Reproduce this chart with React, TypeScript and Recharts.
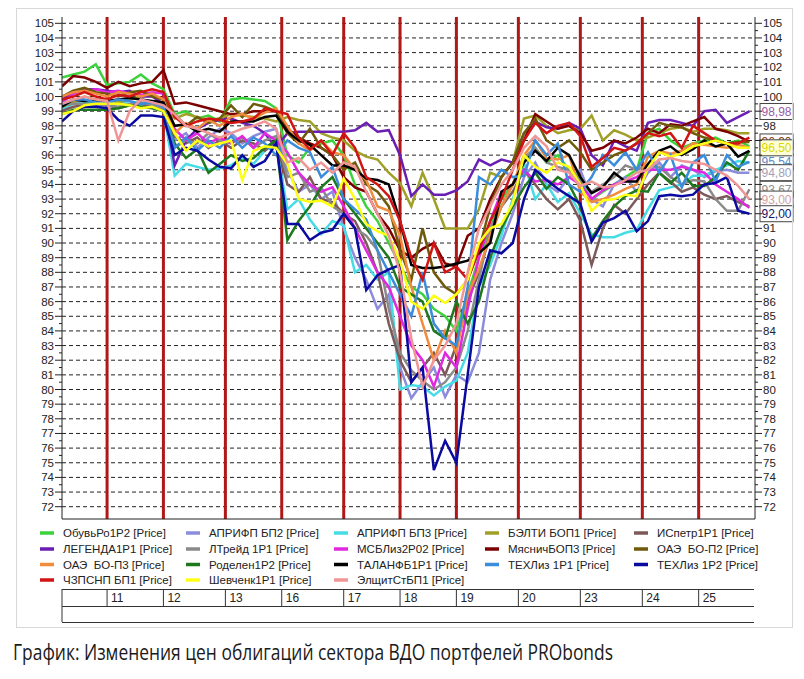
import React from "react";
import { LineChart, Line, XAxis, YAxis, ReferenceLine, ReferenceDot } from "recharts";

// ---------- axis / category data ----------
const slotsPerDay = [8, 10, 11, 10, 11, 10, 10, 11, 11, 11, 10, 10];
const dayLabels = ["", "11", "12", "13", "16", "17", "18", "19", "20", "23", "24", "25"];
const sampleStep = 2;
const yMin = 71.16;
const yMax = 105.43;

// ---------- series ----------
const seriesNames = [
  "ОбувьРо1Р2", "АПРИФП БП2", "АПРИФП БП3", "БЭЛТИ БОП1", "ИСпетр1Р1",
  "ЛЕГЕНДА1Р1", "ЛТрейд 1Р1", "МСБЛиз2Р02", "МясничБОП3", "ОАЭ\u00A0 БО-П2",
  "ОАЭ\u00A0 БО-П3", "Роделен1Р2", "ТАЛАНФБ1Р1", "ТЕХЛиз 1Р1", "ТЕХЛиз 1Р2",
  "ЧЗПСНП БП1", "Шевченк1Р1", "ЭлщитСтБП1",
];
const seriesColors = [
  "#3cd23c", "#8c8cdc", "#46dce6", "#a0a028", "#7d5a5a",
  "#6a1eb4", "#8a8a8a", "#e028e0", "#7d0000", "#6e5a0a",
  "#f08c3c", "#1e781e", "#000000", "#3c8cdc", "#0a0aa0",
  "#d21414", "#ffff14", "#f09696",
];

const obuvRo = [101.3, 101.5, 101.7, 102.2, 100.8, 100.9, 101.0, 101.5, 100.9, 100.5, 98.8, 99.0, 98.5, 98.7, 98.3, 99.8, 99.9, 99.8, 99.7, 99.2, 96.0, 95.5, 96.5, 96.8, 97.0, 96.0, 94.0, 92.5, 91.5, 90.0, 88.5, 87.0, 86.5, 85.5, 85.0, 84.0, 86.5, 89.0, 91.0, 93.0, 94.0, 95.5, 96.5, 95.5, 96.0, 95.0, 94.5, 93.0, 93.5, 94.0, 94.5, 95.0, 97.5, 97.8, 97.0, 96.5, 96.8, 97.0, 97.2, 96.8, 97.0, 96.6];
const aprifp2 = [99.0, 99.6, 99.7, 99.6, 99.5, 99.6, 99.5, 99.6, 99.5, 99.3, 97.0, 97.5, 96.5, 97.2, 97.8, 97.5, 96.8, 97.3, 97.6, 97.8, 95.0, 93.5, 94.0, 93.0, 93.5, 91.0, 89.0, 87.5, 85.5, 86.5, 81.5, 79.4, 80.5, 81.5, 79.5, 81.0, 80.5, 82.5, 87.5, 90.0, 92.0, 94.5, 95.5, 94.0, 93.5, 94.5, 95.0, 93.0, 92.5, 94.0, 94.5, 93.5, 94.8, 95.5, 94.5, 95.3, 95.0, 94.5, 94.9, 95.0, 94.8, 94.8];
const aprifp3 = [99.2, 99.5, 99.6, 99.5, 99.4, 99.6, 99.5, 99.3, 99.4, 99.0, 94.6, 95.4, 95.2, 95.0, 95.1, 95.3, 95.8, 95.4, 96.3, 96.8, 92.3, 93.0, 91.6, 90.6, 91.5, 91.2, 88.0, 88.5, 87.5, 88.0, 80.0, 80.3, 80.2, 79.6, 80.2, 80.6, 82.5, 87.0, 88.5, 90.5, 93.0, 95.5, 93.0, 94.0, 92.8, 93.4, 92.0, 90.6, 90.4, 90.4, 90.7, 90.9, 92.3, 93.6, 93.8, 94.0, 94.6, 94.6, 95.0, 95.3, 95.6, 95.5];
const belti = [99.3, 99.6, 100.0, 99.8, 99.8, 99.6, 99.8, 100.0, 100.2, 99.2, 98.5, 98.8, 98.6, 98.4, 98.5, 98.8, 98.7, 98.6, 98.5, 98.3, 98.6, 98.4, 98.3, 97.5, 97.2, 97.0, 96.3, 95.9, 95.7, 94.8, 94.1, 92.5, 94.8, 93.0, 91.0, 91.0, 91.0, 92.3, 94.8, 94.5, 95.5, 98.5, 98.7, 98.0, 97.5, 97.7, 97.8, 98.7, 97.0, 97.7, 97.4, 97.0, 97.2, 97.5, 97.8, 97.9, 97.6, 97.8, 97.8, 97.7, 97.5, 97.5];
const ispetr = [99.0, 99.3, 99.4, 99.5, 99.4, 99.2, 99.4, 99.5, 99.3, 99.0, 97.3, 96.8, 97.2, 96.5, 97.0, 96.5, 97.0, 96.8, 96.3, 97.0, 94.0, 93.5, 94.5, 93.0, 92.8, 92.0, 91.5, 90.0, 88.0, 84.5, 82.0, 80.5, 81.5, 82.5, 81.0, 83.0, 86.0, 88.0, 90.5, 92.5, 93.5, 95.0, 94.0, 93.0, 92.3, 93.0, 91.5, 88.5, 91.0, 92.6, 92.0, 93.0, 94.0, 94.8, 94.2, 93.5, 93.8, 93.3, 93.0, 93.2, 92.8, 92.5];
const legenda = [99.8, 100.2, 100.5, 100.5, 100.4, 100.3, 100.4, 100.0, 100.0, 99.5, 95.3, 97.0, 97.8, 98.2, 98.4, 98.5, 98.2, 98.0, 97.5, 96.5, 97.5, 97.6, 97.6, 97.6, 97.6, 97.6, 97.7, 98.2, 97.6, 97.7, 96.0, 93.2, 94.0, 93.3, 93.3, 93.6, 94.2, 95.7, 95.3, 95.7, 95.5, 97.5, 98.3, 97.9, 97.8, 98.2, 97.8, 96.0, 95.3, 97.0, 96.6, 96.3, 98.2, 98.4, 98.4, 98.2, 98.0, 99.0, 99.1, 98.2, 98.6, 98.98];
const ltreyd = [99.4, 99.5, 99.5, 99.4, 99.4, 99.3, 99.5, 99.6, 99.4, 99.2, 96.5, 97.0, 96.8, 97.5, 97.0, 96.8, 97.2, 96.5, 97.0, 97.3, 94.5, 94.8, 93.5, 93.8, 92.5, 92.0, 91.0, 90.5, 89.5, 85.5, 82.5, 81.3, 80.6, 80.0, 80.5, 81.5, 84.0, 87.5, 91.0, 92.5, 94.0, 95.8, 96.5, 95.5, 95.2, 95.0, 94.3, 93.5, 94.0, 94.5, 95.3, 95.0, 95.3, 95.2, 94.5, 94.0, 94.3, 94.2, 93.0, 92.2, 92.2, 93.67];
const msbliz = [99.6, 100.2, 100.4, 100.5, 100.3, 100.4, 100.2, 100.1, 100.3, 100.2, 97.8, 97.0, 97.5, 96.8, 97.2, 96.8, 97.3, 96.5, 97.5, 97.0, 96.2, 94.8, 94.0, 93.5, 93.8, 92.5, 91.0, 89.5, 88.0, 87.0, 85.0, 83.0, 82.0, 80.2, 82.5, 81.5, 85.5, 89.0, 91.5, 93.5, 94.0, 95.0, 94.2, 94.3, 94.0, 94.5, 94.0, 93.0, 93.6, 94.0, 94.2, 94.5, 95.0, 95.0, 95.0, 95.2, 95.0, 94.8, 94.0, 93.5, 93.0, 92.4];
const myasnich = [100.7, 101.4, 101.3, 101.0, 100.6, 101.0, 100.7, 100.9, 101.0, 101.8, 99.5, 99.6, 99.4, 99.2, 99.0, 98.8, 98.8, 99.0, 99.0, 99.0, 97.8, 97.2, 96.8, 96.5, 96.0, 94.5, 93.8, 93.5, 92.0, 91.0, 89.5, 89.0, 89.6, 90.0, 88.6, 88.4, 90.5, 91.0, 93.0, 94.5, 95.5, 97.0, 98.8, 98.3, 97.8, 98.0, 97.5, 96.3, 96.5, 97.0, 96.8, 97.2, 97.8, 97.5, 98.1, 98.0, 98.3, 98.6, 97.8, 97.6, 97.3, 96.9];
const oaeP2 = [100.0, 100.4, 100.6, 100.3, 100.2, 100.0, 100.3, 100.4, 100.0, 99.8, 98.8, 98.0, 98.6, 98.2, 98.5, 99.4, 98.6, 99.5, 99.3, 99.0, 97.5, 96.8, 97.8, 96.5, 96.0, 95.0, 95.5, 94.0, 93.5, 92.5, 89.5, 87.5, 91.0, 88.0, 87.0, 86.5, 87.5, 89.5, 92.5, 94.5, 95.5, 97.5, 98.5, 97.0, 96.5, 97.0, 96.2, 95.0, 95.5, 96.0, 96.3, 96.8, 97.5, 98.2, 98.0, 97.9, 97.5, 97.2, 97.0, 96.8, 96.9, 96.9];
const oaeP3 = [100.0, 100.3, 100.4, 100.2, 100.0, 100.3, 100.2, 100.0, 100.2, 99.8, 97.5, 98.2, 97.8, 98.4, 98.0, 98.6, 98.8, 98.5, 98.9, 99.2, 98.0, 96.8, 96.3, 97.0, 96.2, 96.0, 95.0, 94.3, 92.5, 92.2, 90.5, 87.0, 84.5, 82.0, 84.0, 82.5, 86.5, 88.2, 90.5, 92.5, 94.0, 96.0, 97.0, 95.8, 95.7, 96.0, 93.5, 92.8, 93.0, 93.3, 93.7, 94.0, 95.9, 96.3, 96.1, 96.3, 96.8, 96.7, 96.6, 96.5, 96.7, 96.5];
const rodelen = [98.8, 99.1, 99.1, 99.1, 99.1, 99.2, 99.4, 99.3, 99.2, 99.0, 96.8, 95.8, 96.4, 94.8, 95.4, 96.0, 95.6, 95.8, 96.5, 97.0, 90.2, 91.5, 92.5, 93.8, 94.5, 93.0, 92.0, 91.0, 90.0, 89.0, 87.0, 86.5, 86.0, 84.0, 83.5, 86.0, 84.5, 86.0, 89.0, 91.0, 92.5, 93.8, 94.8, 93.7, 94.5, 94.0, 92.5, 90.3, 91.5, 92.5, 93.2, 93.6, 93.5, 94.8, 94.1, 94.8, 93.9, 93.9, 94.5, 95.5, 95.0, 96.3];
const talanf = [99.3, 99.8, 99.7, 99.7, 99.7, 99.8, 99.9, 99.8, 99.7, 99.6, 98.0, 98.1, 97.6, 97.8, 97.6, 98.3, 98.3, 98.3, 98.6, 98.7, 97.6, 97.0, 96.7, 96.0, 95.3, 95.3, 95.0, 94.4, 94.3, 94.0, 91.5, 88.5, 88.3, 88.3, 88.4, 88.6, 88.8, 89.3, 90.0, 93.5, 94.0, 95.5, 96.3, 95.6, 96.5, 96.0, 94.5, 93.4, 93.8, 94.8, 94.2, 94.2, 95.4, 96.3, 96.6, 96.0, 96.4, 97.0, 96.6, 96.8, 95.9, 96.3];
const texliz1 = [99.5, 99.8, 99.8, 99.6, 99.6, 99.8, 99.7, 99.5, 99.6, 99.3, 96.5, 97.2, 96.3, 97.0, 96.5, 97.3, 96.5, 97.2, 96.8, 96.0, 97.0, 96.5, 96.2, 94.5, 95.2, 93.0, 92.3, 91.6, 89.5, 88.0, 86.5, 85.0, 88.0, 84.5, 83.5, 83.0, 87.0, 94.5, 94.0, 95.0, 94.5, 94.6, 97.0, 96.0, 96.8, 94.0, 93.5, 94.5, 96.0, 95.3, 96.2, 95.0, 96.2, 94.8, 96.0, 93.8, 95.5, 96.0, 94.2, 96.0, 95.2, 95.54];
const texliz2 = [98.3, 99.0, 99.3, 99.3, 99.2, 98.4, 98.0, 98.7, 98.7, 98.6, 96.0, 96.5, 96.3, 95.7, 95.2, 95.1, 96.0, 95.2, 95.6, 96.8, 91.3, 91.3, 90.2, 90.7, 90.9, 92.0, 91.0, 86.8, 87.8, 88.2, 88.5, 80.5, 81.5, 74.5, 76.5, 75.0, 81.0, 87.0, 89.5, 89.3, 90.0, 93.0, 95.0, 94.3, 93.7, 93.2, 92.7, 90.1, 91.4, 91.7, 92.2, 90.8, 91.5, 93.2, 93.3, 93.2, 93.3, 94.0, 94.1, 94.5, 92.2, 92.0];
const chzpsnp = [99.8, 100.0, 100.3, 100.0, 99.8, 100.1, 100.0, 100.3, 100.5, 100.3, 98.6, 98.0, 98.3, 98.5, 98.4, 98.2, 98.3, 98.5, 99.2, 99.0, 98.8, 97.2, 96.4, 97.0, 96.0, 97.5, 96.5, 94.5, 94.0, 93.2, 91.5, 89.0, 87.5, 90.0, 88.0, 88.4, 87.5, 89.5, 91.5, 93.0, 95.0, 97.0, 98.2, 97.5, 98.0, 98.2, 97.3, 95.2, 95.8, 96.5, 96.3, 96.8, 97.5, 97.3, 97.5, 96.5, 98.0, 97.5, 97.0, 96.8, 96.8, 97.2];
const shevchenk = [98.8, 99.0, 99.4, 99.5, 99.5, 99.5, 99.4, 99.2, 99.3, 99.0, 97.5, 96.3, 97.0, 96.6, 96.8, 97.0, 94.3, 96.3, 96.6, 96.5, 95.4, 93.0, 92.8, 92.9, 92.5, 94.4, 93.0, 91.3, 90.8, 90.5, 88.8, 86.0, 85.5, 86.4, 85.9, 86.5, 87.5, 90.0, 91.0, 91.3, 92.7, 96.0, 95.2, 94.8, 95.5, 95.2, 94.0, 92.2, 92.9, 93.0, 93.3, 93.2, 95.1, 96.2, 95.9, 96.1, 96.6, 96.8, 97.0, 96.8, 96.5, 96.5];
const elshit = [99.5, 99.8, 100.0, 99.8, 99.7, 97.0, 99.0, 99.8, 99.6, 99.4, 98.8, 98.0, 97.8, 97.5, 97.2, 97.5, 97.8, 98.0, 98.3, 97.8, 95.5, 95.8, 95.0, 95.5, 94.8, 95.5, 95.2, 93.5, 92.0, 90.5, 88.0, 83.5, 80.2, 82.0, 83.0, 84.5, 88.0, 91.0, 92.5, 94.0, 95.0, 96.5, 97.3, 96.6, 95.0, 94.8, 93.9, 94.2, 93.8, 93.9, 94.3, 94.8, 95.0, 95.7, 95.8, 95.6, 95.5, 95.4, 95.0, 94.6, 93.9, 93.0];

const seriesValues = [
  obuvRo, aprifp2, aprifp3, belti, ispetr, legenda, ltreyd, msbliz, myasnich,
  oaeP2, oaeP3, rodelen, talanf, texliz1, texliz2, chzpsnp, shevchenk, elshit,
];

// last-value tags on the right
const endLabelValues = [98.98, 96.9, 95.54, 96.5, 94.8, 93.67, 93.0, 92.0];
const endLabelTextColors = ["#9a5aaa", "#8a3a20", "#5a8ac8", "#d8d800", "#a0a0b8", "#8c8c8c", "#d2a0a0", "#141464"];
const endLabelFills = ["#ffffff", "#ffffff", "#ffffff", "#ffffd8", "#ffffff", "#ffffff", "#ffffff", "#ffffff"];

// ---------- derived ----------
const dayStarts: number[] = [];
slotsPerDay.reduce((acc, n) => {
  dayStarts.push(acc);
  return acc + n;
}, 0);
const totalSlots = slotsPerDay.reduce((a, b) => a + b, 0);

const rows = obuvRo.map((_, i) => {
  const r: Record<string, number> = { t: i * sampleStep };
  seriesValues.forEach((arr, k) => {
    r["s" + k] = arr[i];
  });
  return r;
});

const halfTicks: number[] = [];
for (let v = 72; v <= 105; v += 0.5) halfTicks.push(v);
const gridValues = halfTicks.filter((v) => Number.isInteger(v));

const FONT = "'Liberation Sans', Arial, sans-serif";

const LeftTick = (props: any) => {
  const { x, y, payload } = props;
  const v = payload.value;
  const major = Number.isInteger(v);
  return (
    <g>
      <line x1={x - (major ? 7 : 3)} x2={x} y1={y} y2={y} stroke="#222" strokeWidth={1} />
      {major && (
        <text x={x - 8} y={y} dy={4} textAnchor="end" fontSize={11.5} fill="#222" fontFamily={FONT}>
          {v}
        </text>
      )}
    </g>
  );
};

const RightTick = (props: any) => {
  const { x, y, payload } = props;
  const v = payload.value;
  const major = Number.isInteger(v);
  // the value tags on the right cover the axis labels next to them
  const covered = endLabelValues.some((t) => Math.abs(t - v) < 0.82);
  return (
    <g>
      <line x1={x} x2={x + (major ? 7 : 3)} y1={y} y2={y} stroke="#222" strokeWidth={1} />
      {major && !covered && (
        <text x={x + 8} y={y} dy={4} textAnchor="start" fontSize={11.5} fill="#222" fontFamily={FONT}>
          {v}
        </text>
      )}
    </g>
  );
};

const TableTick = (props: any) => {
  const { x, y, payload } = props;
  const idx = dayStarts.indexOf(payload.value);
  const top = y + 70;
  const mid = y + 87;
  const bot = y + 103;
  return (
    <g>
      <line x1={x} x2={x} y1={top} y2={idx === 0 ? bot : mid} stroke="#333" strokeWidth={1} />
      <text x={x + 4} y={top + 13} fontSize={12} fill="#222" fontFamily={FONT}>
        {idx >= 0 ? dayLabels[idx] : ""}
      </text>
    </g>
  );
};

const makeEndTag = (k: number) => (p: any) => {
  const { cx, cy } = p;
  const txt = endLabelValues[k].toFixed(2).replace(".", ",");
  return (
    <g>
      <rect x={cx + 5} y={cy - 8} width={33} height={16} fill={endLabelFills[k]} stroke="#444" strokeWidth={1} />
      <text x={cx + 21.5} y={cy + 4.5} textAnchor="middle" fontSize={12} fill={endLabelTextColors[k]} fontFamily={FONT}>
        {txt}
      </text>
    </g>
  );
};

const legendColText = [63, 209, 357, 508, 657];
const legendRowY = [533, 549, 564.5, 580];

export default function App() {
  return (
    <div style={{ position: "absolute", left: 0, top: 0, width: 804, height: 679, background: "#fff" }}>
      <LineChart width={804} height={679} data={rows} margin={{ top: 17, right: 9, bottom: 130, left: 12 }}>
        <XAxis
          dataKey="t"
          type="number"
          domain={[0, totalSlots]}
          ticks={dayStarts}
          interval={0}
          height={30}
          tickSize={0}
          tickMargin={0}
          tickLine={false}
          axisLine={{ stroke: "#222", strokeWidth: 1 }}
          tick={<TableTick />}
          allowDataOverflow
        />
        <YAxis
          yAxisId="left"
          orientation="left"
          type="number"
          domain={[yMin, yMax]}
          ticks={halfTicks}
          interval={0}
          width={50}
          tickSize={0}
          tickMargin={0}
          tickLine={false}
          axisLine={{ stroke: "#222", strokeWidth: 1 }}
          tick={<LeftTick />}
          allowDataOverflow
        />
        <YAxis
          yAxisId="right"
          orientation="right"
          type="number"
          domain={[yMin, yMax]}
          ticks={halfTicks}
          interval={0}
          width={40}
          tickSize={0}
          tickMargin={0}
          tickLine={false}
          axisLine={{ stroke: "#222", strokeWidth: 1 }}
          tick={<RightTick />}
          allowDataOverflow
        />
        {gridValues.map((v) => (
          <ReferenceLine key={"g" + v} yAxisId="left" y={v} stroke="#222" strokeDasharray="4 3" strokeWidth={1} />
        ))}
        {dayStarts.slice(1).map((s) => (
          <ReferenceLine key={"d" + s} yAxisId="left" x={s} stroke="#b01818" strokeWidth={3} />
        ))}
        {seriesValues.map((_, k) => (
          <Line
            key={"s" + k}
            yAxisId="left"
            type="linear"
            dataKey={"s" + k}
            stroke={seriesColors[k]}
            strokeWidth={2.5}
            dot={false}
            activeDot={false}
            isAnimationActive={false}
          />
        ))}
        {endLabelValues.map((v, k) => (
          <ReferenceDot
            key={"e" + k}
            yAxisId="left"
            x={totalSlots}
            y={v}
            r={0}
            ifOverflow="visible"
            shape={makeEndTag(k)}
          />
        ))}
      </LineChart>
      <svg
        width={804}
        height={679}
        style={{ position: "absolute", left: 0, top: 0, pointerEvents: "none" }}
      >
        <rect x={16.5} y={8.5} width={776} height={619} fill="none" stroke="#d8d8d8" strokeWidth={1} />
        {seriesNames.map((name, k) => {
          const col = k % 5;
          const row = Math.floor(k / 5);
          const tx = legendColText[col];
          const y = legendRowY[row];
          return (
            <g key={"l" + k}>
              <line x1={tx - 23} x2={tx - 9} y1={y} y2={y} stroke={seriesColors[k]} strokeWidth={3.5} />
              <text x={tx} y={y + 4} fontSize={11.5} fill="#222" fontFamily={FONT} style={{ whiteSpace: "pre" }}>
                {name + " [Price]"}
              </text>
            </g>
          );
        })}
        <line x1={62} x2={754} y1={589.5} y2={589.5} stroke="#333" strokeWidth={1} />
        <line x1={62} x2={754} y1={606.5} y2={606.5} stroke="#333" strokeWidth={1} />
        <line x1={62} x2={754} y1={622.5} y2={622.5} stroke="#333" strokeWidth={1} />
        <text
          x={13}
          y={660}
          fontSize={21}
          fill="#1a1a1a"
          fontFamily="'Liberation Sans Narrow', 'Open Sans', sans-serif"
          textLength={600}
          lengthAdjust="spacingAndGlyphs"
        >
          График: Изменения цен облигаций сектора ВДО портфелей PRObonds
        </text>
      </svg>
    </div>
  );
}
